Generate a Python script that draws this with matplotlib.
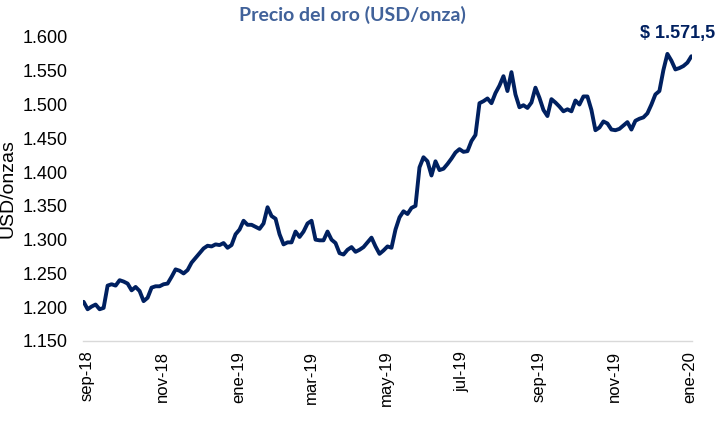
#!/usr/bin/env python3
"""
Gold price chart (USD/oz), Sep 2018 - Jan 2020
"""
import pandas as pd
import matplotlib
matplotlib.use("Agg")
import matplotlib.pyplot as plt
from matplotlib.ticker import FuncFormatter

# Prices, evenly spaced in time
start_date = '2018-08-29'
end_date = '2020-01-02'
prices = [
    1208, 1197, 1201, 1204, 1197, 1199, 1232, 1234, 1232, 1240,
    1238, 1235, 1225, 1230, 1224, 1209, 1214, 1229, 1231, 1231,
    1234, 1235, 1245, 1256, 1254, 1250, 1255, 1266, 1273, 1280,
    1287, 1291, 1290, 1293, 1292, 1295, 1288, 1292, 1308, 1315,
    1328, 1322, 1322, 1319, 1316, 1324, 1348, 1335, 1331, 1308,
    1293, 1296, 1296, 1312, 1304, 1312, 1324, 1328, 1300, 1299,
    1299, 1312, 1300, 1295, 1280, 1278, 1285, 1289, 1282, 1285,
    1289, 1296, 1303, 1290, 1279, 1284, 1290, 1288, 1315, 1333,
    1342, 1338, 1347, 1350, 1407, 1422, 1416, 1395, 1416, 1403,
    1405, 1412, 1420, 1429, 1434, 1430, 1431, 1446, 1455, 1502,
    1505, 1509, 1502, 1517, 1528, 1542, 1520, 1548, 1515, 1496,
    1499, 1495, 1503, 1525, 1510, 1492, 1483, 1508, 1503, 1497,
    1490, 1493, 1490, 1506, 1500, 1512, 1512, 1492, 1462, 1466,
    1475, 1472, 1463, 1462, 1464, 1469, 1474, 1463, 1476, 1479,
    1481, 1487, 1500, 1515, 1520, 1551, 1575, 1565, 1552, 1554,
    1557, 1562, 1571.5,
]
last_label = '$ 1.571,5'

tick_dates = ['2018-09-01', '2018-11-01', '2019-01-01', '2019-03-01', '2019-05-01',
              '2019-07-01', '2019-09-01', '2019-11-01', '2020-01-01']
tick_labels = ['sep-18', 'nov-18', 'ene-19', 'mar-19', 'may-19',
               'jul-19', 'sep-19', 'nov-19', 'ene-20']

dates = pd.date_range(start_date, end_date, periods=len(prices))
df = pd.DataFrame({'date': dates, 'price': prices})

plt.rcParams['font.family'] = ['Liberation Sans', 'DejaVu Sans']

fig = plt.figure(figsize=(7.21, 4.24), dpi=100)
ax = fig.add_axes([83 / 721, 1 - 341 / 424, (692 - 83) / 721, (341 - 37) / 424])

line_color = '#002060'
ax.plot(df['date'], df['price'], color=line_color, linewidth=2.8,
        solid_joinstyle='round', solid_capstyle='round')

ax.set_ylim(1150, 1600)
ax.set_yticks(range(1150, 1601, 50))
ax.yaxis.set_major_formatter(FuncFormatter(lambda v, p: f"{v:,.0f}".replace(',', '.')))
ax.set_xlim(df['date'].iloc[0] - pd.Timedelta(days=0.5), df['date'].iloc[-1] + pd.Timedelta(days=0.5))
ax.set_xticks(pd.to_datetime(tick_dates))
ax.set_xticklabels(tick_labels, rotation=90, ha='center', va='top')

for side in ['top', 'right', 'left']:
    ax.spines[side].set_visible(False)
ax.spines['bottom'].set_color('#D9D9D9')
ax.spines['bottom'].set_linewidth(1.0)

ax.tick_params(axis='y', length=0, pad=11, labelsize=13, labelcolor='black')
ax.tick_params(axis='x', length=0, pad=7, labelsize=12, labelcolor='black')

ax.set_ylabel('USD/onzas', fontsize=14)
ax.yaxis.set_label_coords(-0.11, 0.5)

# Last value label
ax.annotate(last_label, xy=(df['date'].iloc[-1], df['price'].iloc[-1]),
            xytext=(-14, 23), textcoords='offset pixels',
            ha='center', va='center', fontsize=13, fontweight='bold',
            color=line_color, annotation_clip=False)

fig.text(352 / 721, 1 - 15 / 424, 'Precio del oro (USD/onza)', ha='center', va='center',
         fontsize=14, fontweight='bold', color='#41629A', family=['Lato', 'DejaVu Sans'])

fig.savefig('out.png', dpi=100)
plt.close(fig)
